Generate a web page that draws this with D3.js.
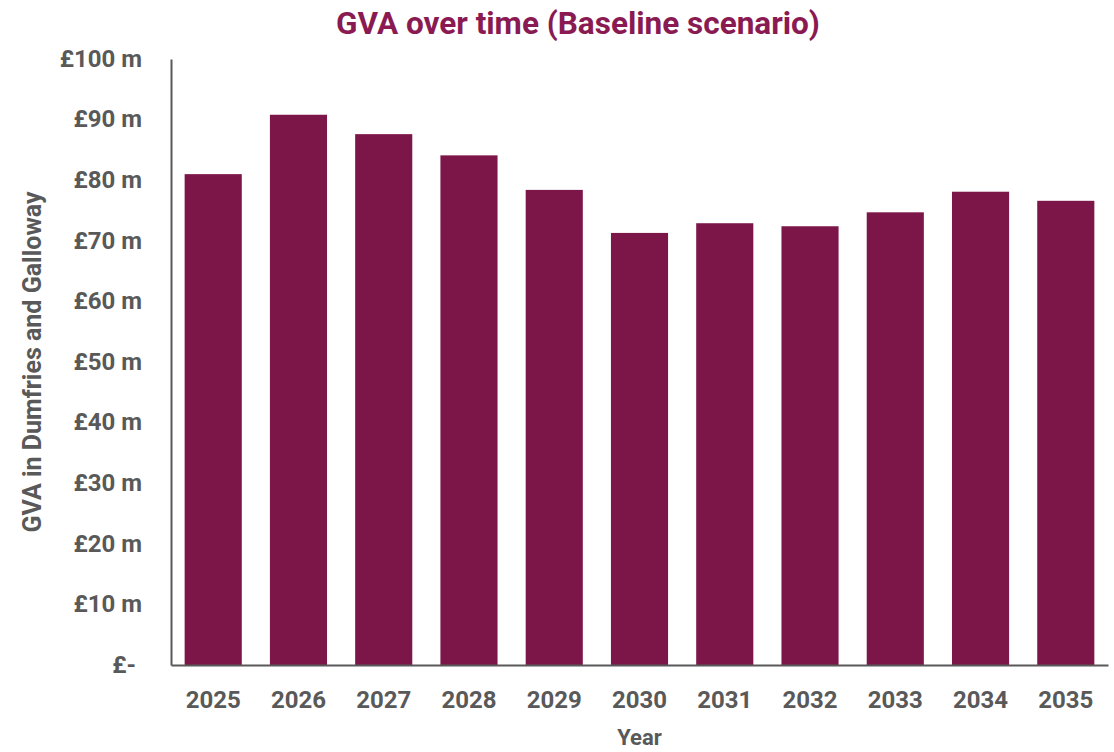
<!DOCTYPE html>
<html>
<head>
<meta charset="utf-8">
<script src="https://cdn.jsdelivr.net/npm/d3@7"></script>
<style>
  html, body { margin: 0; padding: 0; background: #fff; }
  svg text { font-family: Roboto, "Noto Sans", sans-serif; font-weight: 700; }
</style>
</head>
<body>
<div id="chart"></div>
<script>
// GVA per year, £ millions
const years = ["2025", "2026", "2027", "2028", "2029", "2030", "2031", "2032", "2033", "2034", "2035"];
const gva = [81.0, 90.8, 87.6, 84.1, 78.4, 71.3, 72.9, 72.4, 74.7, 78.1, 76.6];
const yTicks = [0, 10, 20, 30, 40, 50, 60, 70, 80, 90, 100];

const chartTitle = "GVA over time (Baseline scenario)";
const yTitle = "GVA in Dumfries and Galloway";
const xTitle = "Year";

const width = 1114, height = 752;
const margin = { top: 59, right: 6, bottom: 87, left: 171 };
const innerW = width - margin.left - margin.right;
const innerH = height - margin.top - margin.bottom;

const barColor = "#7d1648";
const titleColor = "#8a1a52";
const textColor = "#595959";

const svg = d3.select("#chart").append("svg")
    .attr("width", width)
    .attr("height", height);

const root = svg.append("g")
    .attr("transform", `translate(${margin.left},${margin.top})`);

const x = d3.scaleBand()
    .domain(years)
    .range([0, innerW])
    .paddingInner(0.33)
    .paddingOuter(0.16);

const y = d3.scaleLinear()
    .domain([0, 100])
    .range([innerH, 0]);

// bars
root.append("g").attr("class", "bars")
    .selectAll("rect")
    .data(years.map((yr, i) => ({ year: yr, value: gva[i] })))
    .join("rect")
    .attr("x", d => x(d.year))
    .attr("y", d => y(d.value))
    .attr("width", x.bandwidth())
    .attr("height", d => innerH - y(d.value))
    .attr("fill", barColor);

// y axis
const fmt = v => v === 0 ? "£-" : `£${v} m`;
const yAxis = root.append("g")
    .call(d3.axisLeft(y).tickValues(yTicks).tickFormat(fmt).tickSize(0).tickPadding(29));
yAxis.select(".domain").attr("stroke", textColor).attr("stroke-width", 2);
yAxis.selectAll("text")
    .attr("fill", textColor)
    .style("font-size", "24px")
    .attr("dy", "0.3em")
    .attr("dx", d => d === 0 ? -6 : 0);

// x axis
const xAxis = root.append("g")
    .attr("transform", `translate(0,${innerH})`)
    .call(d3.axisBottom(x).tickSize(0).tickPadding(26));
xAxis.select(".domain").attr("stroke", textColor).attr("stroke-width", 2);
xAxis.selectAll("text")
    .attr("fill", textColor)
    .style("font-size", "24px");

// titles
svg.append("text")
    .attr("x", 578)
    .attr("y", 34)
    .attr("text-anchor", "middle")
    .attr("fill", titleColor)
    .style("font-size", "31.5px")
    .text(chartTitle);

svg.append("text")
    .attr("transform", `translate(41,${margin.top + innerH / 2}) rotate(-90)`)
    .attr("text-anchor", "middle")
    .attr("fill", textColor)
    .style("font-size", "25px")
    .text(yTitle);

svg.append("text")
    .attr("x", margin.left + innerW / 2)
    .attr("y", 745)
    .attr("text-anchor", "middle")
    .attr("fill", textColor)
    .style("font-size", "22px")
    .text(xTitle);
</script>
</body>
</html>
